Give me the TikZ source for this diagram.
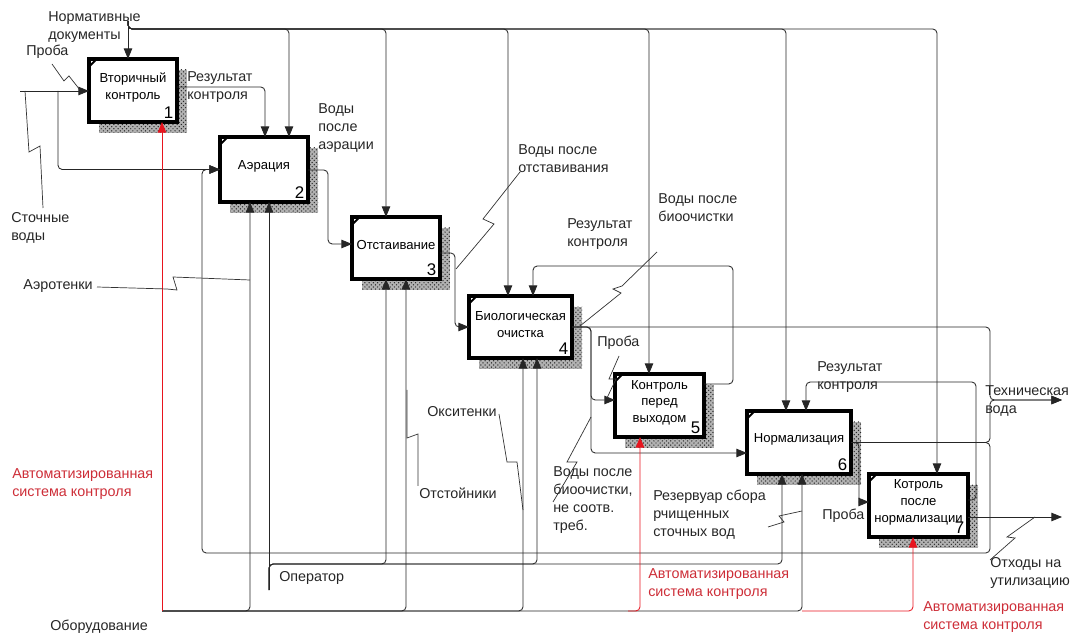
\documentclass[tikz,border=0pt]{standalone}
\usepackage{fontspec}
\setmainfont{Liberation Sans}
\usetikzlibrary{arrows.meta, patterns, positioning}

\definecolor{asured}{RGB}{232,20,30}
\definecolor{asutext}{RGB}{205,45,55}

\tikzset{
  idef/.style={draw, line width=2.2pt, fill=white, inner sep=0pt, outer sep=0pt, anchor=north west},
  boxhatch/.style={pattern=crosshatch dots, pattern color=black!85},
  flow/.style={line width=0.6pt, draw=black!85, rounded corners=3pt},
  tip/.style={-{Triangle[length=7.5pt,width=6pt]}},
  arr/.style={flow, tip},
  lbl/.style={font=\fontsize{10.2}{12.8}\selectfont, align=left, inner sep=0pt, text=black!85, anchor=west},
  btxt/.style={font=\fontsize{9.3}{12}\selectfont, align=center, inner sep=0pt},
  bnum/.style={font=\fontsize{12}{13}\selectfont, anchor=south east, inner sep=2.5pt},
  zig/.style={line width=0.5pt, draw=black!80},
  asu/.style={flow, draw=asured, -{Triangle[length=7.5pt,width=6pt,fill=asured]}},
}

% IDEF0 box: name, x1, y1, x2, y2, text, number
\newcommand{\idefbox}[7]{%
  \fill[black!30] (#2+10,#3+11) rectangle (#4+10,#5+11);
  \fill[boxhatch] (#2+10,#3+11) rectangle (#4+10,#5+11);
  \node[idef, minimum width={(#4-#2)*0.025cm}, minimum height={(#5-#3)*0.025cm}] (#1) at (#2,#3) {};
  \draw[line width=1.4pt] ([yshift=-5.5pt]#1.north west) -- ([xshift=5.5pt]#1.north west);
  \node[btxt] at ([yshift=2pt]#1.center) {#6};
  \node[bnum] at (#1.south east) {#7};
}

\begin{document}
\begin{tikzpicture}[x=0.025cm, y=-0.025cm]
  \useasboundingbox (0,0) rectangle (1073,635);

  % Boxes
  \idefbox{b1}{89}{59}{177}{122}{Вторичный\\контроль}{1}
  \idefbox{b2}{220}{137}{308}{202}{Аэрация}{2}
  \idefbox{b3}{352}{217}{440}{279}{Отстаивание}{3}
  \idefbox{b4}{469}{296}{572}{358}{Биологическая\\очистка}{4}
  \idefbox{b5}{615}{374}{704}{437}{Контроль\\перед\\выходом}{5}
  \idefbox{b6}{747}{411}{851}{474}{Нормализация}{6}
  \idefbox{b7}{869}{474}{968}{537}{Котроль\\после\\нормализации}{7}

  % Inputs
  \coordinate (src) at (20,91);
  \coordinate (split) at (58,91);
  \draw[arr] (src) -- (b1.west |- src);
  \draw[arr] (split) |- (b2.west);
  \node[lbl] (proba1) at (26,52) {Проба};
  \draw[zig] (52,64) -- (64,81) -- (69,76) -- (80,90);
  \node[lbl] (stoch) at (11,228) {Сточные\\воды};
  \draw[zig] (25,91) -- (29,152) -- (40,146) -- (43,208);

  % Controls
  \node[lbl] (norm) at (48,27.5) {Нормативные\\документы};
  \coordinate (nd) at (128,21);
  \draw[arr] (nd) -- (b1.north -| nd);
  \foreach \x/\bx in {289/b2,386/b3,508/b4,649/b5,786/b6,937/b7}
    \draw[arr] (nd) |- (\x,29) -- (\bx.north -| \x,0);

  % Box 1 -> Box 2
  \draw[arr] (b1.east |- 0,87) -| (b2.north -| 265,0);
  \node[lbl] at (187,87) {Результат\\контроля};

  % Box 2 -> Box 3
  \draw[arr] (b2.east |- 0,170) -| (328,244) -- (b3.west |- 0,244);
  \node[lbl] at (318,128.5) {Воды\\после\\аэрации};

  % Box 3 -> Box 4
  \draw[arr] (b3.east |- 0,253) -| (455,327) -- (b4.west);
  \node[lbl] at (518,159) {Воды после\\отставивания};
  \draw[zig] (520,172) -- (483,219) -- (494,224) -- (456,269);

  % Box 4 outputs
  \coordinate (tech) at (1062,400);
  \draw[arr] (b4.east) -| (990,400) -- (tech);
  \draw[arr] (b4.east) -| (591,400) -- (b5.west |- 0,400);
  \draw[arr] (b4.east) -| (591,453) -- (b6.west |- 0,453);
  \node[lbl] at (658,208) {Воды после\\биоочистки};
  \node[lbl] at (597,343) {Проба};
  \draw[zig] (619,356) -- (609,379) -- (616,379) -- (607,398);
  \node[lbl] at (553,500) {Воды после\\биоочистки,\\не соотв.\\треб.};
  \draw[zig] (553,502) -- (577,462) -- (567,462) -- (591,417);

  % Box 5 feedback
  \draw[arr] (b5.east |- 0,384) -| (733,266) -| (b4.north -| 533,0);
  \node[lbl] at (567,234) {Результат\\контроля};
  \draw[zig] (657,252) -- (622,286) -- (613,289) -- (621,293) -- (580,326);

  % Box 6 outputs
  \draw[arr] (b6.east) -| (990,400) -- (tech);
  \draw[arr] (b6.east) -| (990,553) -| (202,0 |- b2.west) -- (b2.west);
  \draw[arr] (b6.east) -| (859,502) -- (b7.west |- 0,502);
  \node[lbl] at (822,516) {Проба};

  % Box 7 outputs
  \coordinate (waste) at (1062,517);
  \draw[arr] (b7.east |- 0,517) -- (waste);
  \draw[arr] (b7.east |- 0,500) -| (976,382) -| (b6.north -| 806,0);
  \node[lbl] at (817,377) {Результат\\контроля};
  \node[lbl] at (985,401) {Техническая\\вода};
  \node[lbl] at (990,573) {Отходы на\\утилизацию};
  \draw[zig] (990,560) -- (1015,538) -- (1007,537) -- (1035,517);

  % Mechanisms
  \coordinate (equip) at (162,611);
  \coordinate (oper) at (269,590);
  \foreach \x/\bx in {250/b2,406/b3,523/b4,802/b6}
    \draw[arr] (equip) -| (\bx.south -| \x,0);
  \draw[arr] (oper) -- (b2.south -| oper);
  \foreach \x/\bx in {386/b3,537/b4,782/b6}
    \draw[arr] (oper) |- (\x,564) -- (\bx.south -| \x,0);
  \draw[asu] (equip) -- (b1.south -| equip);
  \draw[asu] (628,611) -| (b5.south -| 640,0);
  \draw[asu] (802,611) -| (b7.south -| 913,0);
  \node[lbl] at (50,627) {Оборудование};
  \node[lbl] at (279,578) {Оператор};
  \node[lbl] at (23,286) {Аэротенки};
  \draw[zig] (97,287) -- (167,289) -- (177,290) -- (173,277) -- (250,280);
  \node[lbl] at (427,412) {Окситенки};
  \draw[zig] (499,414) -- (507,462) -- (517,462) -- (523,510);
  \node[lbl] at (419,493) {Отстойники};
  \draw[zig] (407,390) -- (407,438) -- (418,434) -- (418,486);
  \node[lbl] at (653,515) {Резервуар сбора\\рчищенных\\сточных вод};
  \draw[zig] (768,527) -- (784,522) -- (779,516) -- (802,511);

  % ASU labels
  \node[lbl, text=asutext] at (12,484) {Автоматизированная\\система контроля};
  \node[lbl, text=asutext] at (648,584) {Автоматизированная\\система контроля};
  \node[lbl, text=asutext] at (923,617) {Автоматизированная\\система контроля};
\end{tikzpicture}
\end{document}
